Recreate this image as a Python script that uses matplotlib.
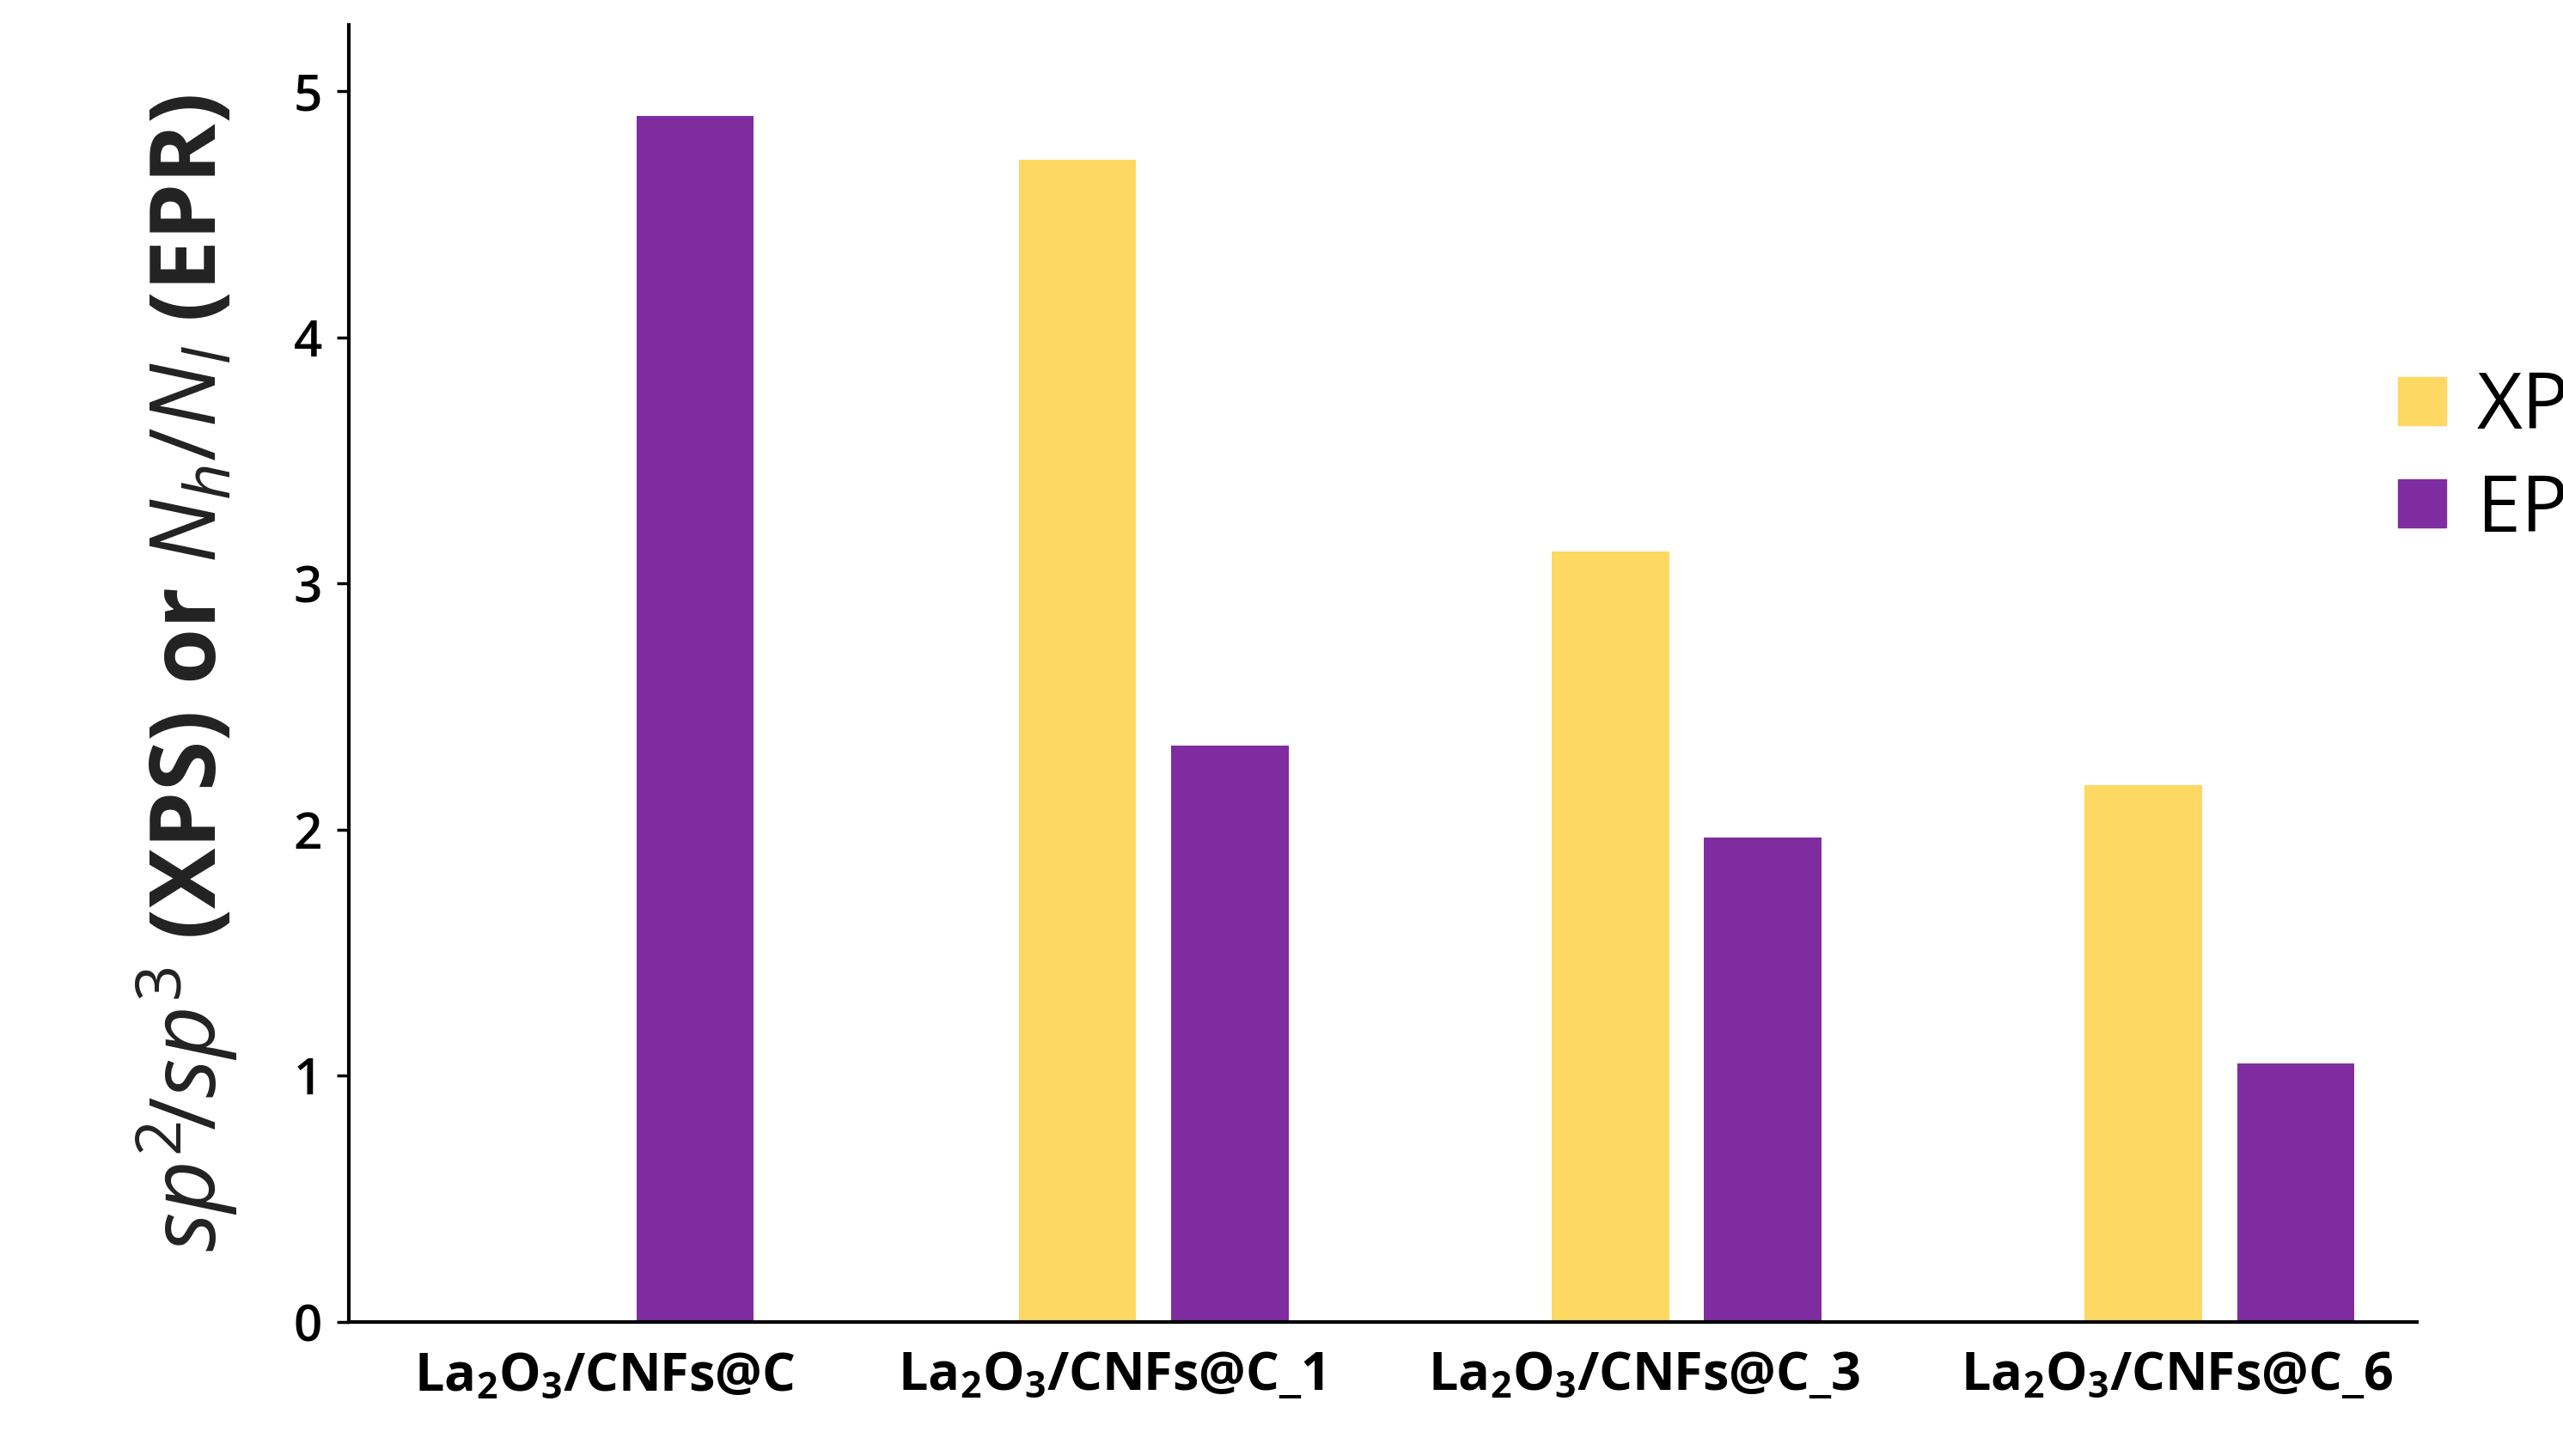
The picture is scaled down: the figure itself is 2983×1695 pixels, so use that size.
import numpy as np
import matplotlib
matplotlib.use("Agg")
import matplotlib.pyplot as plt
from matplotlib.lines import Line2D

# data
samples = ["C", "C_1", "C_3", "C_6"]
xps = [np.nan, 4.72, 3.13, 2.18]
epr = [4.90, 2.34, 1.97, 1.05]

plt.rcParams['font.family'] = ['Open Sans', 'DejaVu Sans']
plt.rcParams['mathtext.fontset'] = 'custom'
plt.rcParams['mathtext.rm'] = 'Open Sans'
plt.rcParams['mathtext.it'] = 'Open Sans:italic'
plt.rcParams['mathtext.bf'] = 'Open Sans:bold'

fig = plt.figure(figsize=(29.83, 16.95), dpi=100)
ax = fig.add_axes([0.136, 0.092, 0.807, 0.891])

yellow = '#FDD862'
purple = '#7F2CA0'
w = 0.22
x = np.arange(len(samples))
x_xps = x - 0.143
x_epr = x + 0.143
x_epr[0] = x[0] + 0.14
ax.bar(x_xps, xps, width=w, color=yellow)
ax.bar(x_epr, epr, width=w, color=purple)

ax.set_xlim(-0.51, 3.37)
ax.set_ylim(0, 5.27)
ax.set_yticks([0, 1, 2, 3, 4, 5])
ax.tick_params(axis='y', labelsize=42, width=2.5, length=10, direction='out', pad=12)
for t in ax.get_yticklabels():
    t.set_fontweight('semibold')
tick_pos = x - 0.08
tick_pos[0] = -0.03
ax.set_xticks(tick_pos)
ax.set_xticklabels([r'La$_\mathbf{2}$O$_\mathbf{3}$/CNFs@' + s for s in samples],
                   fontsize=44, fontweight='bold')
ax.tick_params(axis='x', length=0, pad=24)
for side in ['top', 'right']:
    ax.spines[side].set_visible(False)
for side in ['left', 'bottom']:
    ax.spines[side].set_linewidth(3)

ax.set_ylabel(r'$sp^2\!/sp^3$ $\mathbf{(XPS)\ or}$ $N_h/N_l$ $\mathbf{(EPR)}$',
              fontsize=76, labelpad=45, color='#222222')

handles = [Line2D([], [], marker='s', ls='', color=yellow, markersize=40),
           Line2D([], [], marker='s', ls='', color=purple, markersize=40)]
fig.legend(handles, ['XPS', 'EPR'], loc='upper left', bbox_to_anchor=(0.905, 0.795),
           frameon=False, fontsize=66, handletextpad=0.3, labelspacing=0.3,
           handlelength=0.8)

fig.savefig('out.png', dpi=100)
